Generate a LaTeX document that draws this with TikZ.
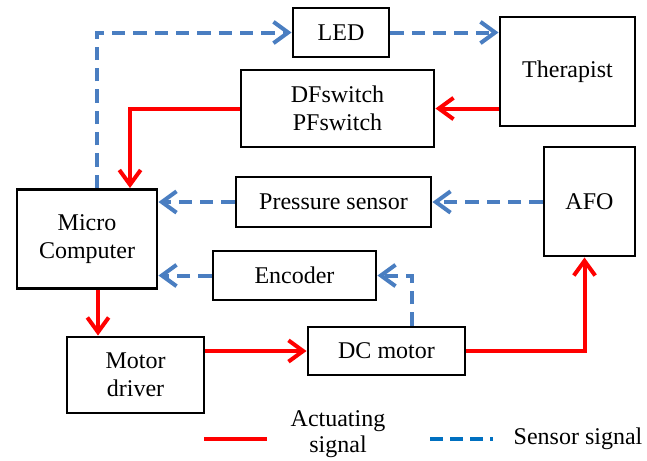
\documentclass[tikz,border=0pt]{standalone}
\usepackage{fontspec}
\setmainfont{Liberation Serif}
\usetikzlibrary{arrows.meta,positioning,calc}
\definecolor{actred}{RGB}{255,0,0}
\definecolor{sensblue}{RGB}{74,126,193}
\definecolor{legblue}{RGB}{0,112,192}

\begin{document}
\begin{tikzpicture}[
    x=0.75pt, y=-0.75pt,
    every node/.style={font=\fontsize{18}{21}\selectfont},
    block/.style={draw, line width=2.2pt, align=center, inner sep=2pt},
    act/.style={-{Straight Barb[length=11pt,width=16pt]}, actred, line width=3pt},
    sens/.style={-{Straight Barb[length=11pt,width=16pt]}, sensblue, line width=3pt, dash pattern=on 10pt off 6pt}
  ]
  \useasboundingbox (0,0) rectangle (647,461);

  % blocks
  \node[block, minimum width=72pt, minimum height=36.75pt] (led) at (341,32.5) {LED};
  \node[block, minimum width=101.25pt, minimum height=81.75pt] (ther) at (567.5,71.5) {Therapist};
  \node[block, minimum width=144.75pt, minimum height=57.75pt] (sw) at (337.5,108.5) {DFswitch\\PFswitch};
  \node[block, minimum width=146.25pt, minimum height=37.5pt] (pres) at (333.5,202) {Pressure sensor};
  \node[block, minimum width=68.25pt, minimum height=81.75pt] (afo) at (589.5,201.5) {AFO};
  \node[block, minimum width=105pt, minimum height=74.25pt] (mc) at (87,239) {Micro\\Computer};
  \node[block, minimum width=122.25pt, minimum height=36.75pt] (enc) at (294.5,275.5) {Encoder};
  \node[block, minimum width=102.75pt, minimum height=57pt] (drv) at (135.5,375) {Motor\\driver};
  \node[block, minimum width=117.75pt, minimum height=36pt] (dcm) at (386.5,351) {DC motor};

  % sensor signals
  \draw[sens] (mc.north) ++(10,0) |- (led.west);
  \draw[sens] (led.east) -- (led.east -| ther.west);
  \draw[sens] (afo.west |- pres.east) -- (pres.east);
  \draw[sens] (pres.west) -- (pres.west -| mc.east);
  \draw[sens] (enc.west) -- (enc.west -| mc.east);
  \draw[sens] ($(dcm.north)+(25.5,0)$) |- (enc.east);

  % actuating signals
  \draw[act] (ther.west |- sw.east) -- (sw.east);
  \draw[act] (sw.west) -| ($(mc.north)+(43,0)$);
  \draw[act] (mc.south) ++(11,0) coordinate (mcout) -- (mcout |- drv.north);
  \draw[act] (dcm.west -| drv.east) -- (dcm.west);
  \draw[act] (dcm.east) -| ($(afo.south)+(-5,0)$);

  % legend
  \coordinate (actA) at (204,439);
  \coordinate (actB) at (267,439);
  \coordinate (senA) at (430,439);
  \coordinate (senB) at (493,439);
  \draw[actred, line width=3pt] (actA) -- (actB);
  \node[align=center, font=\fontsize{18}{19}\selectfont] (actlab) at (338,434) {Actuating\\signal};
  \draw[legblue, line width=3pt, dash pattern=on 10pt off 5pt] (senA) -- (senB);
  \node[right=12pt of senB] (senlab) {Sensor signal};
\end{tikzpicture}
\end{document}
